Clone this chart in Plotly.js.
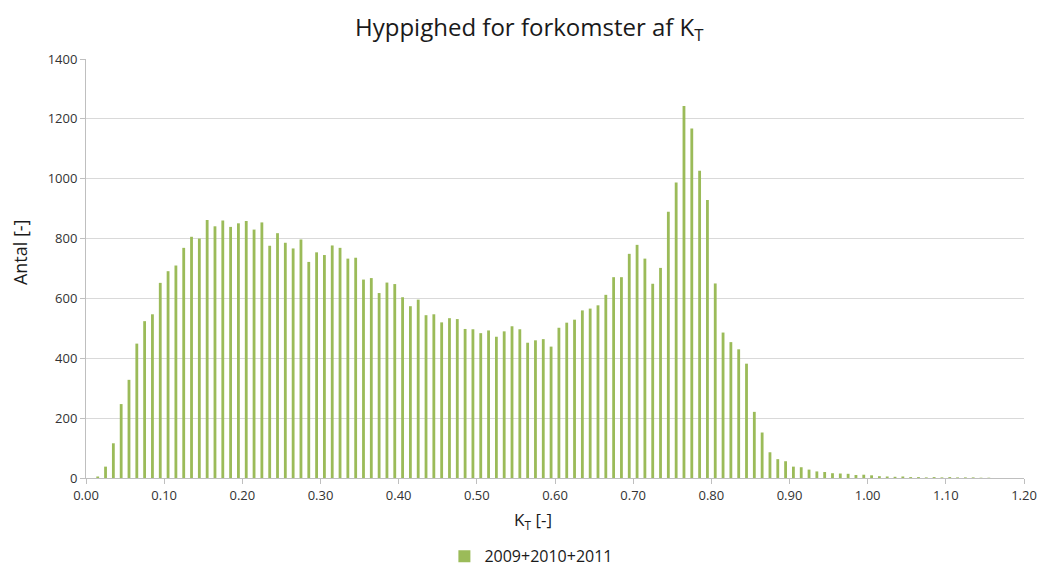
<!DOCTYPE html>
<html>
<head>
<meta charset="utf-8">
<script src="https://cdn.plot.ly/plotly-3.0.1.min.js"></script>
<style>
  html, body { margin: 0; padding: 0; background: #ffffff; }
  #chart { width: 1044px; height: 570px; }
</style>
</head>
<body>
<div id="chart"></div>
<script>
// Bins of K_T, width 0.01, first bin starts at 0.00
const binStart = 0.00;
const binWidth = 0.01;

// Counts per bin (Antal)
const counts = [
  0, 5, 38, 116, 247, 328, 449, 524, 547, 652,
  691, 710, 769, 806, 800, 862, 841, 860, 839, 851,
  859, 830, 854, 776, 818, 786, 767, 797, 722, 754,
  745, 777, 769, 733, 736, 663, 668, 618, 653, 648,
  604, 574, 596, 544, 547, 520, 534, 531, 498, 497,
  484, 493, 472, 490, 507, 497, 452, 460, 464, 439,
  502, 519, 529, 560, 566, 577, 612, 671, 671, 749,
  779, 733, 649, 702, 890, 987, 1243, 1168, 1027, 929,
  650, 486, 454, 430, 382, 221, 152, 86, 63, 56,
  38, 36, 28, 22, 20, 16, 15, 14, 10, 11,
  9, 6, 5, 4, 5, 3, 3, 2, 3, 2,
  3, 2, 2, 2, 1, 1, 0, 0, 0, 0
];

const seriesName = "2009+2010+2011";
const xTickVals = [0.0, 0.1, 0.2, 0.3, 0.4, 0.5, 0.6, 0.7, 0.8, 0.9, 1.0, 1.1, 1.2];
const xTickText = ["0.00", "0.10", "0.20", "0.30", "0.40", "0.50", "0.60", "0.70", "0.80", "0.90", "1.00", "1.10", "1.20"];
const yTickVals = [0, 200, 400, 600, 800, 1000, 1200, 1400];

const FONT = "Open Sans, Liberation Sans, sans-serif";

const trace = {
  type: "bar",
  name: seriesName,
  y: counts,
  x0: binStart + binWidth / 2,
  dx: binWidth,
  marker: { color: "#9bbb59", line: { width: 0 } },
  showlegend: true,
  hoverinfo: "x+y"
};

const layout = {
  width: 1044,
  height: 570,
  paper_bgcolor: "#ffffff",
  plot_bgcolor: "#ffffff",
  margin: { l: 86, r: 20, t: 59, b: 92, pad: 0 },
  bargap: 0.64,
  font: { family: FONT, color: "#333333", size: 13 },
  title: {
    text: "Hyppighed for forkomster af K<sub>T</sub>",
    font: { family: FONT, size: 24, color: "#1a1a1a" },
    x: 0.507,
    xref: "container",
    xanchor: "center",
    y: 0.952,
    yref: "container",
    yanchor: "middle"
  },
  xaxis: {
    range: [0, 1.2],
    tickmode: "array",
    tickvals: xTickVals,
    ticktext: xTickText,
    ticks: "outside",
    ticklen: 5,
    tickcolor: "#bfbfbf",
    showline: true,
    linecolor: "#bfbfbf",
    linewidth: 1,
    showgrid: false,
    zeroline: false,
    tickfont: { family: FONT, size: 13, color: "#333333" },
    fixedrange: true
  },
  yaxis: {
    range: [0, 1400],
    tickmode: "array",
    tickvals: yTickVals,
    ticks: "outside",
    ticklen: 5,
    tickcolor: "#bfbfbf",
    showline: true,
    linecolor: "#bfbfbf",
    linewidth: 1,
    showgrid: true,
    gridcolor: "#d9d9d9",
    gridwidth: 1,
    zeroline: false,
    tickfont: { family: FONT, size: 13, color: "#333333" },
    fixedrange: true
  },
  annotations: [
    {
      text: "K<sub>T</sub> [-]",
      xref: "paper",
      yref: "paper",
      x: 0.4765,
      y: -0.1026,
      xanchor: "center",
      yanchor: "middle",
      showarrow: false,
      font: { family: FONT, size: 17, color: "#1a1a1a" }
    },
    {
      text: "Antal [-]",
      xref: "paper",
      yref: "paper",
      x: -0.0704,
      y: 0.539,
      xanchor: "center",
      yanchor: "middle",
      textangle: -90,
      showarrow: false,
      font: { family: FONT, size: 18, color: "#1a1a1a" }
    }
  ],
  legend: {
    orientation: "h",
    xref: "container",
    yref: "container",
    x: 0.509,
    xanchor: "center",
    y: 0.024,
    yanchor: "middle",
    font: { family: FONT, size: 16, color: "#1a1a1a" },
    bgcolor: "rgba(0,0,0,0)"
  }
};

Plotly.newPlot("chart", [trace], layout, { displayModeBar: false, staticPlot: true });
</script>
</body>
</html>
